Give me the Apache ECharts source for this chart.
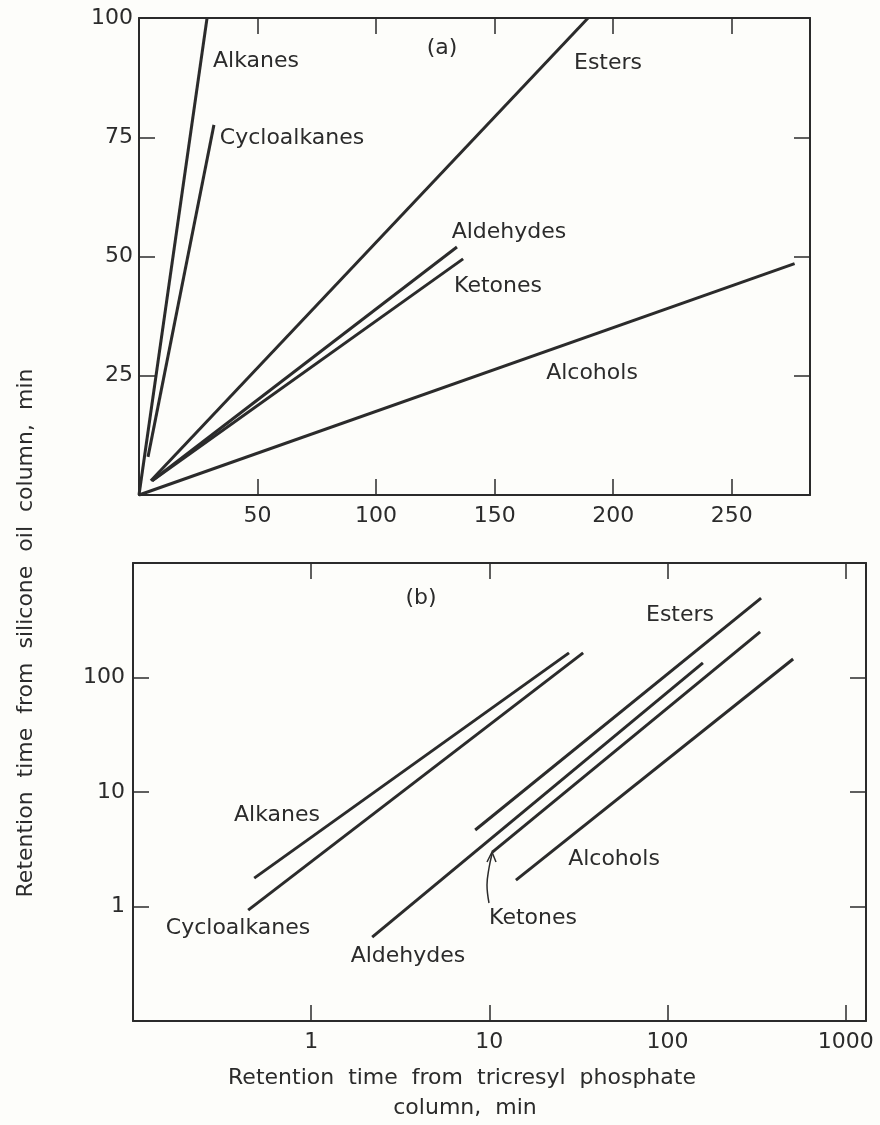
<!DOCTYPE html>
<html>
<head>
<meta charset="utf-8">
<script src="https://cdn.jsdelivr.net/npm/echarts@6/dist/echarts.min.js"></script>
<style>
html,body{margin:0;padding:0;background:#fdfdfa;}
#chart{width:880px;height:1125px;}
</style>
</head>
<body>
<div id="chart"></div>
<script>
// ---------- data: panel (a), linear axes ----------
const seriesNames = ['Alkanes', 'Cycloalkanes', 'Esters', 'Aldehydes', 'Ketones', 'Alcohols'];
const aAlkanes      = [[0, 0], [28.7, 100]];
const aCycloalkanes = [[3.8, 8], [31.6, 77.6]];
const aEsters       = [[5, 3], [189.4, 100]];
const aAldehydes    = [[5.5, 3], [134.1, 52]];
const aKetones      = [[5.5, 3], [136.7, 49.5]];
const aAlcohols     = [[0, 0], [276.5, 48.5]];
const aXTicks = [50, 100, 150, 200, 250];
const aYTicks = [25, 50, 75, 100];

// ---------- data: panel (b), log axes ----------
const bAlkanes      = [[0.479, 1.77], [28, 164]];
const bCycloalkanes = [[0.443, 0.93], [33.6, 164]];
const bEsters       = [[8.33, 4.66], [335, 494]];
const bAldehydes    = [[2.2, 0.54], [158, 134]];
const bKetones      = [[10.4, 2.99], [331, 250]];
const bAlcohols     = [[14.1, 1.70], [507, 145]];
const bXTicks = [1, 10, 100, 1000];
const bYTicks = [1, 10, 100];

const yTitle = 'Retention  time  from  silicone  oil  column,  min';
const xTitle1 = 'Retention  time  from  tricresyl  phosphate';
const xTitle2 = 'column,  min';

const INK = '#2b2b2b';
const FONT = 'DejaVu Sans';
const FS = 22;

const isTick = (list, v) => list.some(t => Math.abs(t - v) < 1e-6 * Math.max(1, t));

function mkAxis(type, opts) {
  return Object.assign({
    type: type,
    axisLine: { show: true, onZero: false, lineStyle: { color: INK, width: 2 } },
    axisTick: { show: true, inside: true, length: 16, lineStyle: { color: INK, width: 1.5 } },
    splitLine: { show: false },
    minorTick: { show: false },
    axisLabel: { show: false }
  }, opts);
}

const labelStyle = (list, margin) => ({
  show: true, color: INK, fontFamily: FONT, fontSize: FS, margin: margin,
  showMinLabel: true, showMaxLabel: true,
  formatter: v => isTick(list, v) ? String(v) : ''
});

const aX = { min: 0, max: 283, interval: 50 };
const aY = { min: 0, max: 100, interval: 25 };
const bX = { min: 0.1, max: 1300, logBase: 10 };
const bY = { min: 0.1, max: 1000, logBase: 10 };

function line(name, data, xi, yi) {
  return {
    name: name, type: 'line', data: data, xAxisIndex: xi, yAxisIndex: yi,
    symbol: 'none', silent: true, animation: false, clip: false,
    lineStyle: { color: INK, width: 3, cap: 'butt' }
  };
}

function txt(text, x, y, rot) {
  return {
    type: 'text', silent: true, x: x, y: y, rotation: rot || 0,
    style: { text: text, x: 0, y: 0, fill: INK, font: FS + 'px "' + FONT + '"',
             textAlign: 'center', textVerticalAlign: 'middle' }
  };
}

const option = {
  backgroundColor: '#fdfdfa',
  animation: false,
  grid: [
    { left: 139, top: 18, width: 671, height: 477 },
    { left: 133, top: 563, width: 733, height: 458 }
  ],
  xAxis: [
    mkAxis('value', Object.assign({ gridIndex: 0, position: 'bottom', axisLabel: labelStyle(aXTicks, 10) }, aX)),
    mkAxis('value', Object.assign({ gridIndex: 0, position: 'top' }, aX)),
    mkAxis('log', Object.assign({ gridIndex: 1, position: 'bottom', axisLabel: labelStyle(bXTicks, 10) }, bX)),
    mkAxis('log', Object.assign({ gridIndex: 1, position: 'top' }, bX))
  ],
  yAxis: [
    mkAxis('value', Object.assign({ gridIndex: 0, position: 'left', axisLabel: labelStyle(aYTicks, 6) }, aY)),
    mkAxis('value', Object.assign({ gridIndex: 0, position: 'right' }, aY)),
    mkAxis('log', Object.assign({ gridIndex: 1, position: 'left', axisLabel: labelStyle(bYTicks, 8) }, bY)),
    mkAxis('log', Object.assign({ gridIndex: 1, position: 'right' }, bY))
  ],
  series: [
    line(seriesNames[0], aAlkanes, 0, 0),
    line(seriesNames[1], aCycloalkanes, 0, 0),
    line(seriesNames[2], aEsters, 0, 0),
    line(seriesNames[3], aAldehydes, 0, 0),
    line(seriesNames[4], aKetones, 0, 0),
    line(seriesNames[5], aAlcohols, 0, 0),
    line(seriesNames[0], bAlkanes, 2, 2),
    line(seriesNames[1], bCycloalkanes, 2, 2),
    line(seriesNames[2], bEsters, 2, 2),
    line(seriesNames[3], bAldehydes, 2, 2),
    line(seriesNames[4], bKetones, 2, 2),
    line(seriesNames[5], bAlcohols, 2, 2)
  ],
  graphic: [
    // panel (a) annotations
    txt('(a)', 442, 48),
    txt('Alkanes', 256, 61),
    txt('Cycloalkanes', 292, 138),
    txt('Esters', 608, 63),
    txt('Aldehydes', 509, 232),
    txt('Ketones', 498, 286),
    txt('Alcohols', 592, 373),
    // panel (b) annotations
    txt('(b)', 421, 598),
    txt('Alkanes', 277, 815),
    txt('Cycloalkanes', 238, 928),
    txt('Aldehydes', 408, 956),
    txt('Esters', 680, 615),
    txt('Alcohols', 614, 859),
    txt('Ketones', 533, 918),
    { type: 'polyline', silent: true,
      shape: { points: [[489, 903], [487, 885], [489, 868], [492, 854]], smooth: 0.4 },
      style: { stroke: INK, lineWidth: 1.5, fill: null } },
    { type: 'polyline', silent: true,
      shape: { points: [[487, 862], [492, 852], [496, 862]] },
      style: { stroke: INK, lineWidth: 1.5, fill: null } },
    // axis titles
    txt(yTitle, 26, 633, Math.PI / 2),
    txt(xTitle1, 462, 1078),
    txt(xTitle2, 465, 1108)
  ]
};

const chart = echarts.init(document.getElementById('chart'), null, { renderer: 'canvas' });
chart.setOption(option);
</script>
</body>
</html>
